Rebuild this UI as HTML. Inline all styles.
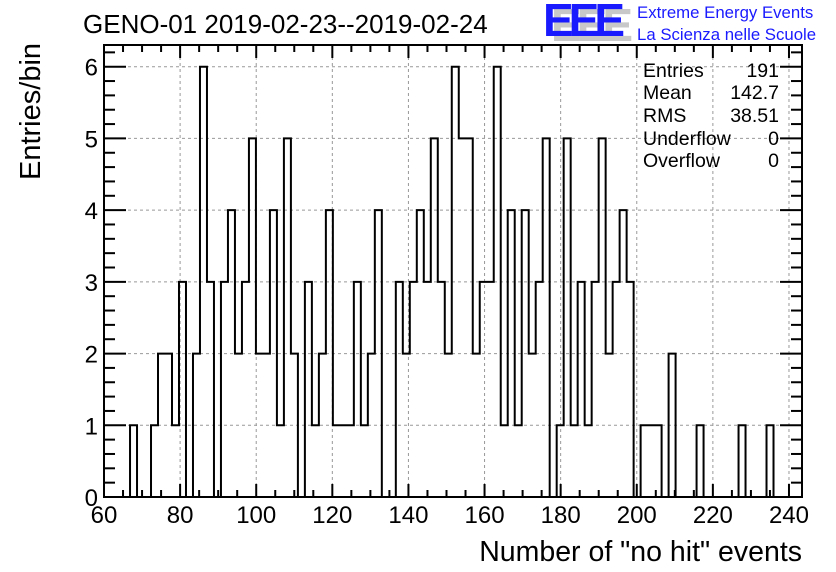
<!DOCTYPE html>
<html><head><meta charset="utf-8"><style>
body{margin:0;background:#fff;}
svg{display:block;font-family:"Liberation Sans",Arial,sans-serif;}
</style></head><body>
<svg id="chart" width="836" height="572" viewBox="0 0 836 572" xmlns="http://www.w3.org/2000/svg">
<rect width="836" height="572" fill="#fff"/>
<text x="83" y="33" font-size="26" fill="#000">GENO-01 2019-02-23--2019-02-24</text>
<g>
<text x="551" y="41" font-size="46" font-weight="bold" fill="#c8c8c8" letter-spacing="-5">EEE</text>
<text x="543" y="36" font-size="46" font-weight="bold" fill="#1a1aff" letter-spacing="-5">EEE</text>
<text x="637" y="18" font-size="16.8" fill="#1a1aff">Extreme Energy Events</text>
<text x="637" y="40" font-size="16.8" fill="#1a1aff">La Scienza nelle Scuole</text>
</g>
<g id="grid"></g>
<g id="hist"></g>
<g id="axes"></g>
<g font-size="19.5" fill="#000">
<text x="643" y="77">Entries</text><text x="779" y="77" text-anchor="end">191</text>
<text x="643" y="99">Mean</text><text x="779" y="99" text-anchor="end">142.7</text>
<text x="643" y="122">RMS</text><text x="779" y="122" text-anchor="end">38.51</text>
<text x="643" y="145">Underflow</text><text x="779" y="145" text-anchor="end">0</text>
<text x="643" y="167">Overflow</text><text x="779" y="167" text-anchor="end">0</text>
</g>
<text transform="translate(40,180) rotate(-90)" font-size="29" fill="#000">Entries/bin</text>
<text x="802" y="561" text-anchor="end" font-size="28.5" fill="#000">Number of "no hit" events</text>
</svg>
<script>
const counts = [1,0,0,1,2,2,1,3,0,2,6,3,0,3,4,2,3,5,2,2,4,1,5,2,0,3,1,2,4,1,1,1,
3,1,2,4,0,0,3,2,3,4,3,5,3,2,6,5,5,2,3,3,6,1,4,1,4,2,3,5,0,1,5,1,3,
1,3,5,2,3,4,3,0,1,1,1,0,2,0,0,0,1,0,0,0,0,0,1,0,0,0,1];
const binStart = 66.84;
const binWidth = 1.838;
const xTicks = [60,80,100,120,140,160,180,200,220,240];
const yTicks = [0,1,2,3,4,5,6];

const L=104,R=802,T=45,B=497;
const xMin=60, xMax=60+(R-105)/3.8;
const yMin=0, yMax=(B-T)/((B-66.7)/6);
const X=v=>L+(v-xMin)/(xMax-xMin)*(R-L);
const Y=v=>B-(v-yMin)/(yMax-yMin)*(B-T);
const NS="http://www.w3.org/2000/svg";
function mk(tag,parent){const e=document.createElementNS(NS,tag);parent.appendChild(e);return e;}
const grid=document.getElementById('grid'),hist=document.getElementById('hist'),axes=document.getElementById('axes');

xTicks.forEach(t=>{if(t<=xMin)return;
 const l=mk('line',grid);
 
 
 l.setAttribute('x1',X(t));l.setAttribute('x2',X(t));l.setAttribute('y1',T);l.setAttribute('y2',B);
 l.setAttribute('stroke','#999');l.setAttribute('stroke-dasharray','3,3');l.setAttribute('stroke-width','1');});
yTicks.forEach(t=>{if(t<=yMin)return;
 const l=mk('line',grid);
 
 
 l.setAttribute('x1',L);l.setAttribute('x2',R);l.setAttribute('y1',Y(t));l.setAttribute('y2',Y(t));
 l.setAttribute('stroke','#999');l.setAttribute('stroke-dasharray','3,3');l.setAttribute('stroke-width','1');});

let d='M'+X(binStart)+','+Y(0);
counts.forEach((c,i)=>{const x0=X(binStart+i*binWidth),x1=X(binStart+(i+1)*binWidth);
 d+=' L'+x0+','+Y(c)+' L'+x1+','+Y(c);});
d+=' L'+X(binStart+counts.length*binWidth)+','+Y(0);
const p=mk('path',hist);


p.setAttribute('d',d);p.setAttribute('fill','none');p.setAttribute('stroke','#000');p.setAttribute('stroke-width','2');

const fr=mk('rect',axes);


fr.setAttribute('x',L);fr.setAttribute('y',T);fr.setAttribute('width',R-L);fr.setAttribute('height',B-T);
fr.setAttribute('fill','none');fr.setAttribute('stroke','#000');fr.setAttribute('stroke-width','2');
function tick(x1,y1,x2,y2){const l=mk('line',axes);
 
 
 l.setAttribute('x1',x1);l.setAttribute('y1',y1);l.setAttribute('x2',x2);l.setAttribute('y2',y2);
 l.setAttribute('stroke','#000');l.setAttribute('stroke-width','2');}
for(let v=60;v<=xMax;v+=5){const maj=(v%20===0);const len=maj?13:7;
 tick(X(v),B,X(v),B-len);tick(X(v),T,X(v),T+len);}
for(let v=0;v<=yMax+1e-6;v=Math.round((v+0.2)*10)/10){const maj=Math.abs(v-Math.round(v))<1e-6;const len=maj?22:11;
 tick(L,Y(v),L+len,Y(v));tick(R,Y(v),R-len,Y(v));}
xTicks.forEach(t=>{const s=mk('text',axes);
 
 
 s.setAttribute('x',X(t));s.setAttribute('y',B+26);s.setAttribute('text-anchor','middle');s.setAttribute('font-size','24');
 s.textContent=t;});
yTicks.forEach(t=>{const s=mk('text',axes);
 
 
 s.setAttribute('x',L-6);s.setAttribute('y',Y(t)+9);s.setAttribute('text-anchor','end');s.setAttribute('font-size','24');
 s.textContent=t;});
</script>
</body></html>
